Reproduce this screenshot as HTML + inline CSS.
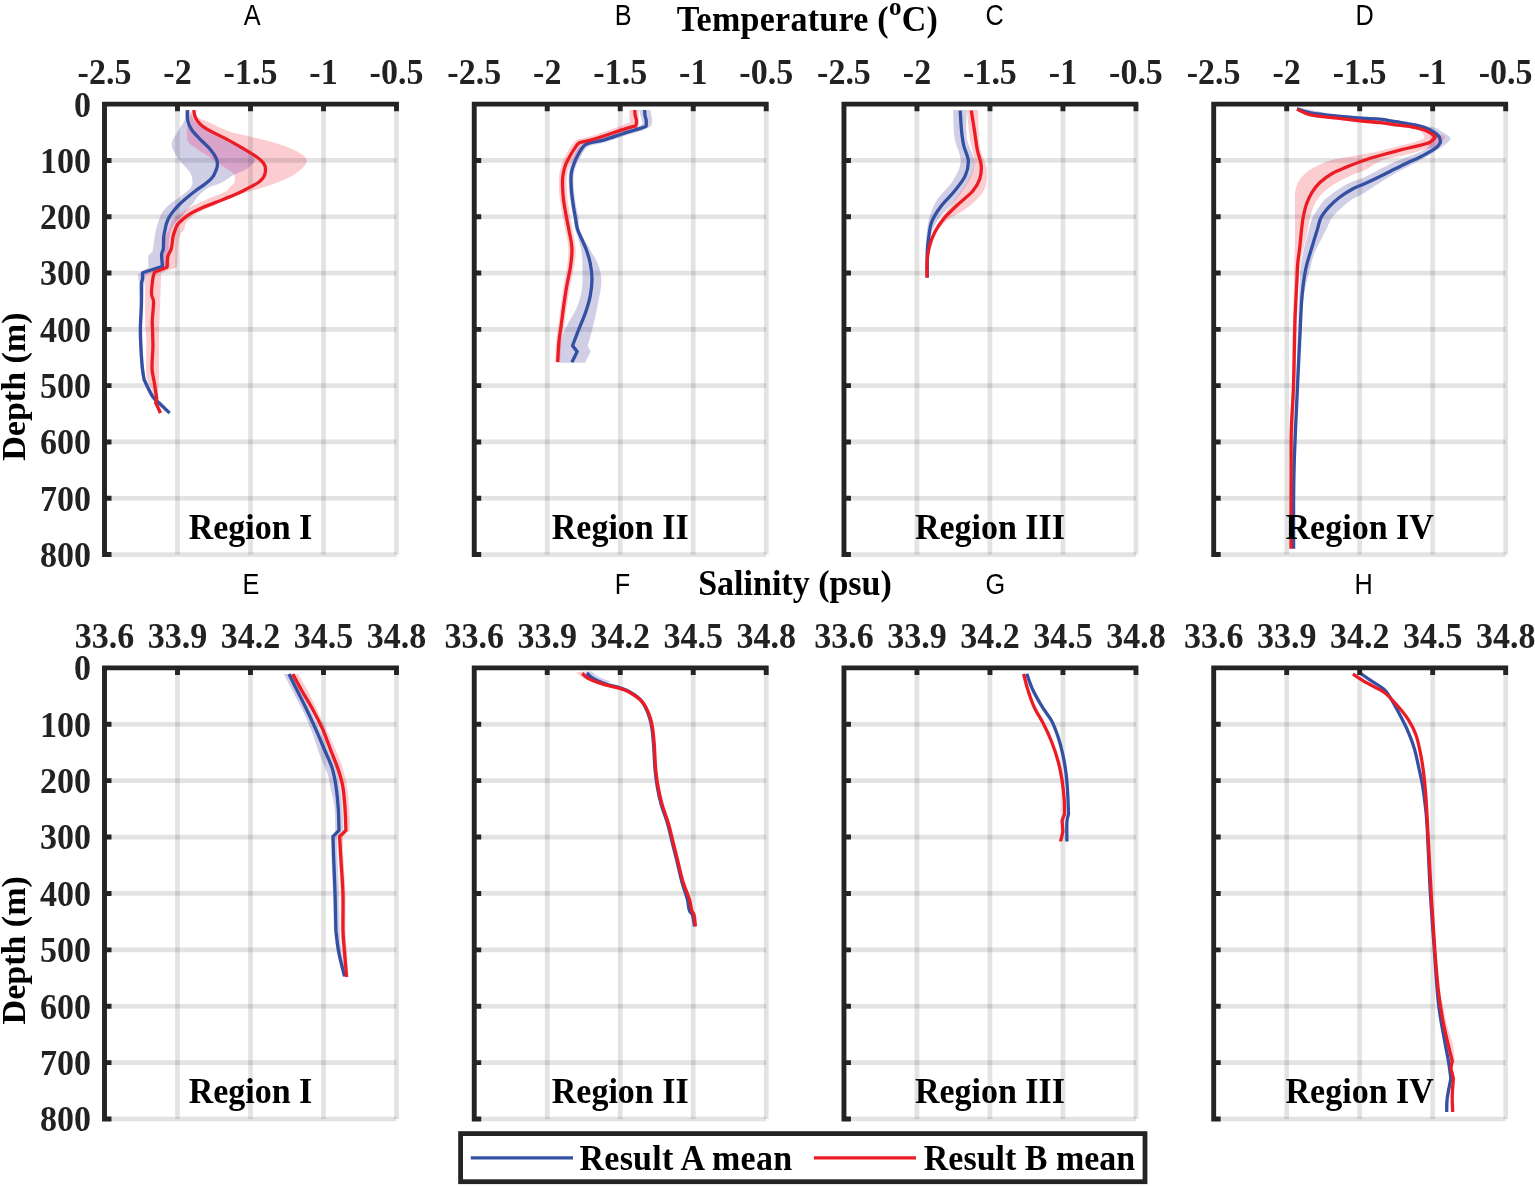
<!DOCTYPE html>
<html><head><meta charset="utf-8"><title>Temperature and Salinity profiles</title>
<style>html,body{margin:0;padding:0;background:#fff;}svg{display:block;}</style>
</head><body>
<svg width="1535" height="1186" viewBox="0 0 1535 1186">
<rect width="1535" height="1186" fill="#fff"/>
<path d="M185.3,110.1C185.17,111.78 185.63,116.83 184.5,120.2C183.37,123.57 180.62,126.52 178.5,130.3C176.38,134.08 172.5,139.25 171.8,142.9C171.1,146.55 172.75,148.97 174.3,152.2C175.85,155.43 178.7,159.2 181.1,162.3C183.5,165.4 186.93,168.43 188.7,170.8C190.47,173.17 191.1,174.25 191.7,176.5C192.3,178.75 192.73,182.13 192.3,184.3C191.87,186.47 191.27,187.32 189.1,189.5C186.93,191.68 182.57,194.9 179.3,197.4C176.03,199.9 172.32,202.02 169.5,204.5C166.68,206.98 164.13,209.8 162.4,212.3C160.67,214.8 160.18,216.55 159.1,219.5C158.02,222.45 156.83,225.75 155.9,230C154.97,234.25 154.1,241.42 153.5,245C152.9,248.58 153.13,249.62 152.3,251.5C151.47,253.38 149.13,253.68 148.5,256.3C147.87,258.92 148.5,265.38 148.5,267.2C146.82,268.33 140.08,272.87 138.4,274C138.4,274.83 138.2,277.33 138.4,279C138.6,280.67 139.4,279.83 139.6,284C139.8,288.17 139.75,296.57 139.6,304C139.45,311.43 138.77,321.42 138.7,328.6C138.63,335.78 138.88,340.62 139.2,347.1C139.52,353.58 140.07,362.02 140.6,367.5C141.13,372.98 142.1,377.92 142.4,380C143.83,382.92 148.15,393.17 151,397.5C153.85,401.83 156.6,403.22 159.5,406C162.4,408.78 166.92,412.83 168.4,414.2L170.8,411.8C169.37,410.33 165,405.8 162.2,403C159.4,400.2 156.73,398.97 154,395C151.27,391.03 147.17,381.83 145.8,379.2C145.5,377.25 144.53,372.85 144,367.5C143.47,362.15 142.92,353.58 142.6,347.1C142.28,340.62 142,335.78 142.1,328.6C142.2,321.42 142.82,311.43 143.2,304C143.58,296.57 143.93,288.92 144.4,284C144.87,279.08 145.73,276.08 146,274.5C149.93,273.28 165.67,268.42 169.6,267.2C169.47,263.55 168.65,251.07 168.8,245.3C168.95,239.53 169.38,236.48 170.5,232.6C171.62,228.72 173.7,224.62 175.5,222C177.3,219.38 179.47,218.83 181.3,216.9C183.13,214.97 184.67,212.57 186.5,210.4C188.33,208.23 190.23,206.4 192.3,203.9C194.37,201.4 196.18,198.12 198.9,195.4C201.62,192.68 204.8,189.77 208.6,187.6C212.4,185.43 217.55,184.52 221.7,182.4C225.85,180.28 229.65,176.95 233.5,174.9C237.35,172.85 241.65,171.88 244.8,170.1C247.95,168.32 250.73,165.97 252.4,164.2C254.07,162.43 255.45,161.5 254.8,159.5C254.15,157.5 252.35,155.1 248.5,152.2C244.65,149.3 238.02,145.47 231.7,142.1C225.38,138.73 216.65,135.37 210.6,132C204.55,128.63 198.92,125.55 195.4,121.9C191.88,118.25 190.48,112.07 189.5,110.1Z" fill="#d0cfe6"/>
<path d="M191.8,110.1C191.42,111.25 190.17,115.03 189.5,117C188.83,118.97 188.22,119.82 187.8,121.9C187.38,123.98 187,126.27 187,129.5C187,132.73 186.4,138.22 187.8,141.3C189.2,144.38 192.17,145.62 195.4,148C198.63,150.38 203.27,152.93 207.2,155.6C211.13,158.27 214.8,161.18 219,164C223.2,166.82 229.78,170.3 232.4,172.5C235.02,174.7 234.42,175.43 234.7,177.2C234.98,178.97 234.88,181.52 234.1,183.1C233.32,184.68 231.53,185.2 230,186.7C228.47,188.2 229,189.88 224.9,192.1C220.8,194.32 211.37,197.38 205.4,200C199.43,202.62 193.77,205.2 189.1,207.8C184.43,210.4 180.33,213.22 177.4,215.6C174.47,217.98 172.92,219.7 171.5,222.1C170.08,224.5 169.92,227.68 168.9,230C167.88,232.32 166.27,233.45 165.4,236C164.53,238.55 164.27,240.1 163.7,245.3C163.13,250.5 162.28,263.55 162,267.2C159.2,268.33 148,272.87 145.2,274C145.2,281.67 145,309 145.2,320C145.4,331 146.2,330.83 146.4,340C146.6,349.17 145.55,366.83 146.4,375C147.25,383.17 150.15,384.83 151.5,389C152.85,393.17 153.3,395.92 154.5,400C155.7,404.08 158,411.25 158.7,413.5L162,412.5C161.42,409.92 159,403.25 158.5,397C158,390.75 158.92,384.5 159,375C159.08,365.5 158.92,349.17 159,340C159.08,330.83 159.27,327.35 159.5,320C159.73,312.65 160.12,303.72 160.4,295.9C160.68,288.08 161.07,276.9 161.2,273.1C163.87,272.12 174.53,268.18 177.2,267.2C177.35,263.55 177.53,250.83 178.1,245.3C178.67,239.77 179.63,236.55 180.6,234C181.57,231.45 182.92,231.98 183.9,230C184.88,228.02 184.55,224.72 186.5,222.1C188.45,219.48 191.92,216.68 195.6,214.3C199.28,211.92 202.87,210.6 208.6,207.8C214.33,205 223.48,200.13 230,197.5C236.52,194.87 241.8,193.8 247.7,192C253.6,190.2 259.5,188.67 265.4,186.7C271.3,184.73 278.18,182.27 283.1,180.2C288.02,178.13 291.45,176.57 294.9,174.3C298.35,172.03 301.83,168.97 303.8,166.6C305.77,164.23 307.2,162.27 306.7,160.1C306.2,157.93 303.75,155.67 300.8,153.6C297.85,151.53 293.92,149.67 289,147.7C284.08,145.73 278.18,143.77 271.3,141.8C264.42,139.83 254.58,137.57 247.7,135.9C240.82,134.23 236.58,134.1 230,131.8C223.42,129.5 213.57,124.58 208.2,122.1C202.83,119.62 199.9,118.9 197.8,116.9C195.7,114.9 195.97,111.23 195.6,110.1Z" fill="#fbcdd0"/>
<clipPath id="ov0"><path d="M185.3,110.1C185.17,111.78 185.63,116.83 184.5,120.2C183.37,123.57 180.62,126.52 178.5,130.3C176.38,134.08 172.5,139.25 171.8,142.9C171.1,146.55 172.75,148.97 174.3,152.2C175.85,155.43 178.7,159.2 181.1,162.3C183.5,165.4 186.93,168.43 188.7,170.8C190.47,173.17 191.1,174.25 191.7,176.5C192.3,178.75 192.73,182.13 192.3,184.3C191.87,186.47 191.27,187.32 189.1,189.5C186.93,191.68 182.57,194.9 179.3,197.4C176.03,199.9 172.32,202.02 169.5,204.5C166.68,206.98 164.13,209.8 162.4,212.3C160.67,214.8 160.18,216.55 159.1,219.5C158.02,222.45 156.83,225.75 155.9,230C154.97,234.25 154.1,241.42 153.5,245C152.9,248.58 153.13,249.62 152.3,251.5C151.47,253.38 149.13,253.68 148.5,256.3C147.87,258.92 148.5,265.38 148.5,267.2C146.82,268.33 140.08,272.87 138.4,274C138.4,274.83 138.2,277.33 138.4,279C138.6,280.67 139.4,279.83 139.6,284C139.8,288.17 139.75,296.57 139.6,304C139.45,311.43 138.77,321.42 138.7,328.6C138.63,335.78 138.88,340.62 139.2,347.1C139.52,353.58 140.07,362.02 140.6,367.5C141.13,372.98 142.1,377.92 142.4,380C143.83,382.92 148.15,393.17 151,397.5C153.85,401.83 156.6,403.22 159.5,406C162.4,408.78 166.92,412.83 168.4,414.2L170.8,411.8C169.37,410.33 165,405.8 162.2,403C159.4,400.2 156.73,398.97 154,395C151.27,391.03 147.17,381.83 145.8,379.2C145.5,377.25 144.53,372.85 144,367.5C143.47,362.15 142.92,353.58 142.6,347.1C142.28,340.62 142,335.78 142.1,328.6C142.2,321.42 142.82,311.43 143.2,304C143.58,296.57 143.93,288.92 144.4,284C144.87,279.08 145.73,276.08 146,274.5C149.93,273.28 165.67,268.42 169.6,267.2C169.47,263.55 168.65,251.07 168.8,245.3C168.95,239.53 169.38,236.48 170.5,232.6C171.62,228.72 173.7,224.62 175.5,222C177.3,219.38 179.47,218.83 181.3,216.9C183.13,214.97 184.67,212.57 186.5,210.4C188.33,208.23 190.23,206.4 192.3,203.9C194.37,201.4 196.18,198.12 198.9,195.4C201.62,192.68 204.8,189.77 208.6,187.6C212.4,185.43 217.55,184.52 221.7,182.4C225.85,180.28 229.65,176.95 233.5,174.9C237.35,172.85 241.65,171.88 244.8,170.1C247.95,168.32 250.73,165.97 252.4,164.2C254.07,162.43 255.45,161.5 254.8,159.5C254.15,157.5 252.35,155.1 248.5,152.2C244.65,149.3 238.02,145.47 231.7,142.1C225.38,138.73 216.65,135.37 210.6,132C204.55,128.63 198.92,125.55 195.4,121.9C191.88,118.25 190.48,112.07 189.5,110.1Z"/></clipPath>
<path d="M191.8,110.1C191.42,111.25 190.17,115.03 189.5,117C188.83,118.97 188.22,119.82 187.8,121.9C187.38,123.98 187,126.27 187,129.5C187,132.73 186.4,138.22 187.8,141.3C189.2,144.38 192.17,145.62 195.4,148C198.63,150.38 203.27,152.93 207.2,155.6C211.13,158.27 214.8,161.18 219,164C223.2,166.82 229.78,170.3 232.4,172.5C235.02,174.7 234.42,175.43 234.7,177.2C234.98,178.97 234.88,181.52 234.1,183.1C233.32,184.68 231.53,185.2 230,186.7C228.47,188.2 229,189.88 224.9,192.1C220.8,194.32 211.37,197.38 205.4,200C199.43,202.62 193.77,205.2 189.1,207.8C184.43,210.4 180.33,213.22 177.4,215.6C174.47,217.98 172.92,219.7 171.5,222.1C170.08,224.5 169.92,227.68 168.9,230C167.88,232.32 166.27,233.45 165.4,236C164.53,238.55 164.27,240.1 163.7,245.3C163.13,250.5 162.28,263.55 162,267.2C159.2,268.33 148,272.87 145.2,274C145.2,281.67 145,309 145.2,320C145.4,331 146.2,330.83 146.4,340C146.6,349.17 145.55,366.83 146.4,375C147.25,383.17 150.15,384.83 151.5,389C152.85,393.17 153.3,395.92 154.5,400C155.7,404.08 158,411.25 158.7,413.5L162,412.5C161.42,409.92 159,403.25 158.5,397C158,390.75 158.92,384.5 159,375C159.08,365.5 158.92,349.17 159,340C159.08,330.83 159.27,327.35 159.5,320C159.73,312.65 160.12,303.72 160.4,295.9C160.68,288.08 161.07,276.9 161.2,273.1C163.87,272.12 174.53,268.18 177.2,267.2C177.35,263.55 177.53,250.83 178.1,245.3C178.67,239.77 179.63,236.55 180.6,234C181.57,231.45 182.92,231.98 183.9,230C184.88,228.02 184.55,224.72 186.5,222.1C188.45,219.48 191.92,216.68 195.6,214.3C199.28,211.92 202.87,210.6 208.6,207.8C214.33,205 223.48,200.13 230,197.5C236.52,194.87 241.8,193.8 247.7,192C253.6,190.2 259.5,188.67 265.4,186.7C271.3,184.73 278.18,182.27 283.1,180.2C288.02,178.13 291.45,176.57 294.9,174.3C298.35,172.03 301.83,168.97 303.8,166.6C305.77,164.23 307.2,162.27 306.7,160.1C306.2,157.93 303.75,155.67 300.8,153.6C297.85,151.53 293.92,149.67 289,147.7C284.08,145.73 278.18,143.77 271.3,141.8C264.42,139.83 254.58,137.57 247.7,135.9C240.82,134.23 236.58,134.1 230,131.8C223.42,129.5 213.57,124.58 208.2,122.1C202.83,119.62 199.9,118.9 197.8,116.9C195.7,114.9 195.97,111.23 195.6,110.1Z" fill="#d8a4ca" clip-path="url(#ov0)"/>
<path d="M177.5,104.15V554.55M250.5,104.15V554.55M323.5,104.15V554.55M396.5,104.15V554.55" stroke="#262830" stroke-opacity="0.13" stroke-width="4.7" fill="none"/>
<path d="M104.5,160.45H396.5M104.5,216.75H396.5M104.5,273.05H396.5M104.5,329.35H396.5M104.5,385.65H396.5M104.5,441.95H396.5M104.5,498.25H396.5M104.5,554.55H396.5" stroke="#262830" stroke-opacity="0.13" stroke-width="4.7" fill="none"/>
<path d="M187.4,110.1C187.47,111.92 187.03,117.63 187.8,121C188.57,124.37 189.88,127.2 192,130.3C194.12,133.4 197.4,136.37 200.5,139.6C203.6,142.83 207.93,146.47 210.6,149.7C213.27,152.93 215.38,156.33 216.5,159C217.62,161.67 217.37,163.87 217.3,165.7C217.23,167.53 216.9,168.08 216.1,170C215.3,171.92 214.28,174.92 212.5,177.2C210.72,179.48 208.22,181.43 205.4,183.7C202.58,185.97 198.75,188.42 195.6,190.8C192.45,193.18 189.22,195.72 186.5,198C183.78,200.28 181.47,202.33 179.3,204.5C177.13,206.67 175.23,208.82 173.5,211C171.77,213.18 170.1,215.42 168.9,217.6C167.7,219.78 166.95,222.03 166.3,224.1C165.65,226.17 165.43,227.87 165,230C164.57,232.13 163.98,233.78 163.7,236.9C163.42,240.02 163.65,245.75 163.3,248.7C162.95,251.65 161.73,251.65 161.6,254.6C161.47,257.55 162.35,264.43 162.5,266.4C159.18,267.45 145.92,271.65 142.6,272.7C142.6,273.75 142.8,277.1 142.6,279C142.4,280.9 141.6,279.88 141.4,284.1C141.2,288.32 141.57,296.88 141.4,304.3C141.23,311.72 140.48,321.47 140.4,328.6C140.32,335.73 140.58,340.62 140.9,347.1C141.22,353.58 141.77,362.08 142.3,367.5C142.83,372.92 143.8,377.58 144.1,379.6C145.5,382.38 149.72,392.13 152.5,396.3C155.28,400.47 157.95,401.82 160.8,404.6C163.65,407.38 168.13,411.6 169.6,413" stroke="#3450a2" stroke-width="3.3" fill="none" stroke-linejoin="round" stroke-linecap="butt"/>
<path d="M193.7,110.1C193.98,111.35 194.27,115.22 195.4,117.6C196.53,119.98 197.97,122.15 200.5,124.4C203.03,126.65 206.1,128.57 210.6,131.1C215.1,133.63 222.3,136.83 227.5,139.6C232.7,142.37 237.45,145.17 241.8,147.7C246.15,150.23 250.35,152.63 253.6,154.8C256.85,156.97 259.43,158.93 261.3,160.7C263.17,162.47 264.12,163.63 264.8,165.4C265.48,167.17 265.6,169.33 265.4,171.3C265.2,173.27 264.78,175.33 263.6,177.2C262.42,179.07 260.95,180.63 258.3,182.5C255.65,184.37 251.63,186.35 247.7,188.4C243.77,190.45 240.13,192.43 234.7,194.8C229.27,197.17 220.53,200.43 215.1,202.6C209.67,204.77 206.22,205.97 202.1,207.8C197.98,209.63 193.65,211.65 190.4,213.6C187.15,215.55 184.77,217.65 182.6,219.5C180.43,221.35 178.65,222.95 177.4,224.7C176.15,226.45 175.83,227.97 175.1,230C174.37,232.03 173.63,233.78 173,236.9C172.37,240.02 172.15,245.47 171.3,248.7C170.45,251.93 168.6,253.22 167.9,256.3C167.2,259.38 167.23,265.38 167.1,267.2C165,268.05 156.6,271.45 154.5,272.3C154.22,273.42 153.3,275.35 152.8,279C152.3,282.65 151.37,290.4 151.5,294.2C151.63,298 153.47,297.5 153.6,301.8C153.73,306.1 152.48,315.53 152.3,320C152.12,324.47 152.4,324.08 152.5,328.6C152.6,333.12 152.98,340.47 152.9,347.1C152.82,353.73 151.77,362.52 152,368.4C152.23,374.28 153.53,377.45 154.3,382.4C155.07,387.35 156.22,395.48 156.6,398.1C156.45,398.88 155.85,402.02 155.7,402.8C156.48,404.5 159.62,411.3 160.4,413" stroke="#ec1c24" stroke-width="3.3" fill="none" stroke-linejoin="round" stroke-linecap="butt"/>
<path d="M102.05,104.15H398.95M104.5,104.15V557M177.5,104.15V111.15M250.5,104.15V111.15M323.5,104.15V111.15M396.5,104.15V111.15M104.5,160.45H111.5M104.5,216.75H111.5M104.5,273.05H111.5M104.5,329.35H111.5M104.5,385.65H111.5M104.5,441.95H111.5M104.5,498.25H111.5M104.5,554.55H111.5" stroke="#242424" stroke-width="4.9" fill="none" stroke-linecap="butt"/>
<text transform="translate(104.5,83.85) scale(1,1.04)" text-anchor="middle" style="font-family:'Liberation Serif','Times New Roman',serif;font-weight:bold;font-size:34px" fill="#222">-2.5</text>
<text transform="translate(177.5,83.85) scale(1,1.04)" text-anchor="middle" style="font-family:'Liberation Serif','Times New Roman',serif;font-weight:bold;font-size:34px" fill="#222">-2</text>
<text transform="translate(250.5,83.85) scale(1,1.04)" text-anchor="middle" style="font-family:'Liberation Serif','Times New Roman',serif;font-weight:bold;font-size:34px" fill="#222">-1.5</text>
<text transform="translate(323.5,83.85) scale(1,1.04)" text-anchor="middle" style="font-family:'Liberation Serif','Times New Roman',serif;font-weight:bold;font-size:34px" fill="#222">-1</text>
<text transform="translate(396.5,83.85) scale(1,1.04)" text-anchor="middle" style="font-family:'Liberation Serif','Times New Roman',serif;font-weight:bold;font-size:34px" fill="#222">-0.5</text>
<text transform="translate(91,116.55) scale(1,1.04)" text-anchor="end" style="font-family:'Liberation Serif','Times New Roman',serif;font-weight:bold;font-size:34px" fill="#222">0</text>
<text transform="translate(91,172.85) scale(1,1.04)" text-anchor="end" style="font-family:'Liberation Serif','Times New Roman',serif;font-weight:bold;font-size:34px" fill="#222">100</text>
<text transform="translate(91,229.15) scale(1,1.04)" text-anchor="end" style="font-family:'Liberation Serif','Times New Roman',serif;font-weight:bold;font-size:34px" fill="#222">200</text>
<text transform="translate(91,285.45) scale(1,1.04)" text-anchor="end" style="font-family:'Liberation Serif','Times New Roman',serif;font-weight:bold;font-size:34px" fill="#222">300</text>
<text transform="translate(91,341.75) scale(1,1.04)" text-anchor="end" style="font-family:'Liberation Serif','Times New Roman',serif;font-weight:bold;font-size:34px" fill="#222">400</text>
<text transform="translate(91,398.05) scale(1,1.04)" text-anchor="end" style="font-family:'Liberation Serif','Times New Roman',serif;font-weight:bold;font-size:34px" fill="#222">500</text>
<text transform="translate(91,454.35) scale(1,1.04)" text-anchor="end" style="font-family:'Liberation Serif','Times New Roman',serif;font-weight:bold;font-size:34px" fill="#222">600</text>
<text transform="translate(91,510.65) scale(1,1.04)" text-anchor="end" style="font-family:'Liberation Serif','Times New Roman',serif;font-weight:bold;font-size:34px" fill="#222">700</text>
<text transform="translate(91,566.95) scale(1,1.04)" text-anchor="end" style="font-family:'Liberation Serif','Times New Roman',serif;font-weight:bold;font-size:34px" fill="#222">800</text>
<text transform="translate(250.5,539.25) scale(1,1.04)" text-anchor="middle" style="font-family:'Liberation Serif','Times New Roman',serif;font-weight:bold;font-size:34px" fill="#000">Region I</text>
<text transform="translate(252.2,24.6) scale(0.88,1)" text-anchor="middle" style="font-family:'Liberation Sans',Arial,sans-serif;font-size:28.7px" fill="#000">A</text>
<path d="M639.2,110C639.48,111.12 640.32,114.4 640.9,116.7C641.48,119 642.4,122.62 642.7,123.8C641.92,124.25 641.45,125.22 638,126.5C634.55,127.78 627.5,129.75 622,131.5C616.5,133.25 610.67,135.38 605,137C599.33,138.62 592.08,139.78 588,141.2C583.92,142.62 582.58,143.62 580.5,145.5C578.42,147.38 576.92,150 575.5,152.5C574.08,155 573.08,157.17 572,160.5C570.92,163.83 569.5,167.83 569,172.5C568.5,177.17 568.7,183.25 569,188.5C569.3,193.75 570.05,199.08 570.8,204C571.55,208.92 572.73,213.67 573.5,218C574.27,222.33 574.18,225.05 575.4,230C576.62,234.95 579.62,241.8 580.8,247.7C581.98,253.6 582.32,258.52 582.5,265.4C582.68,272.28 582.78,282.12 581.9,289C581.02,295.88 579.37,301.18 577.2,306.7C575.03,312.22 571.27,317.57 568.9,322.1C566.53,326.63 564.57,329.58 563,333.9C561.43,338.22 560.08,343.18 559.5,348C558.92,352.82 559.5,360.33 559.5,362.8L584.9,362.8C585.88,360.93 589.82,353.47 590.8,351.6C590.3,350.62 588.3,346.68 587.8,345.7C588.4,343.53 590.22,337.23 591.4,332.7C592.58,328.17 593.72,323.82 594.9,318.5C596.08,313.18 597.42,306.9 598.5,300.8C599.58,294.7 601.4,287.8 601.4,281.9C601.4,276 600.57,271.1 598.5,265.4C596.43,259.7 592.12,253.6 589,247.7C585.88,241.8 581.55,235.03 579.8,230C578.05,224.97 579.2,221.92 578.5,217.5C577.8,213.08 576.38,208.33 575.6,203.5C574.82,198.67 574.1,193.42 573.8,188.5C573.5,183.58 573.22,178.33 573.8,174C574.38,169.67 576.1,165.5 577.3,162.5C578.5,159.5 579.72,158.17 581,156C582.28,153.83 583.5,151.17 585,149.5C586.5,147.83 586.5,147.25 590,146C593.5,144.75 600.33,143.67 606,142C611.67,140.33 617.83,137.95 624,136C630.17,134.05 638.52,131.95 643,130.3C647.48,128.65 649.58,126.8 650.9,126.1C651.1,125.12 652.2,122.88 652.1,120.2C652,117.52 650.6,111.7 650.3,110Z" fill="#d0cfe6"/>
<path d="M629.2,110C629.3,112.1 629.7,120.5 629.8,122.6C628.17,123.2 624.3,124.67 620,126.2C615.7,127.73 609.17,130.03 604,131.8C598.83,133.57 593.5,135.47 589,136.8C584.5,138.13 579.97,138.27 577,139.8C574.03,141.33 573,143.63 571.2,146C569.4,148.37 567.8,150.92 566.2,154C564.6,157.08 562.77,161 561.6,164.5C560.43,168 559.67,171.58 559.2,175C558.73,178.42 558.67,180.78 558.8,185C558.93,189.22 559.3,194.8 560,200.3C560.7,205.8 562.1,213.05 563,218C563.9,222.95 564.52,225.05 565.4,230C566.28,234.95 568,241.8 568.3,247.7C568.6,253.6 568.02,258.9 567.2,265.4C566.38,271.9 564.5,279.82 563.4,286.7C562.3,293.58 561.43,300.42 560.6,306.7C559.77,312.98 559.13,318.5 558.4,324.4C557.67,330.3 556.73,335.8 556.2,342.1C555.67,348.4 555.37,358.85 555.2,362.2L560.3,362.2C560.53,358.85 561.03,348.4 561.7,342.1C562.37,335.8 563.45,330.3 564.3,324.4C565.15,318.5 565.85,312.98 566.8,306.7C567.75,300.42 568.75,293.58 570,286.7C571.25,279.82 573.37,271.9 574.3,265.4C575.23,258.9 575.88,253.6 575.6,247.7C575.32,241.8 573.47,234.95 572.6,230C571.73,225.05 571.23,222.95 570.4,218C569.57,213.05 568.23,205.8 567.6,200.3C566.97,194.8 566.7,189.13 566.6,185C566.5,180.87 566.53,178.58 567,175.5C567.47,172.42 568.23,169.35 569.4,166.5C570.57,163.65 572.47,160.95 574,158.4C575.53,155.85 577.1,153.23 578.6,151.2C580.1,149.17 580.77,147.47 583,146.2C585.23,144.93 588.08,144.83 592,143.6C595.92,142.37 601,140.65 606.5,138.8C612,136.95 619.55,134.92 625,132.5C630.45,130.08 636.83,125.67 639.2,124.3C639.1,121.92 638.7,112.38 638.6,110Z" fill="#fbcdd0"/>
<clipPath id="ov1"><path d="M639.2,110C639.48,111.12 640.32,114.4 640.9,116.7C641.48,119 642.4,122.62 642.7,123.8C641.92,124.25 641.45,125.22 638,126.5C634.55,127.78 627.5,129.75 622,131.5C616.5,133.25 610.67,135.38 605,137C599.33,138.62 592.08,139.78 588,141.2C583.92,142.62 582.58,143.62 580.5,145.5C578.42,147.38 576.92,150 575.5,152.5C574.08,155 573.08,157.17 572,160.5C570.92,163.83 569.5,167.83 569,172.5C568.5,177.17 568.7,183.25 569,188.5C569.3,193.75 570.05,199.08 570.8,204C571.55,208.92 572.73,213.67 573.5,218C574.27,222.33 574.18,225.05 575.4,230C576.62,234.95 579.62,241.8 580.8,247.7C581.98,253.6 582.32,258.52 582.5,265.4C582.68,272.28 582.78,282.12 581.9,289C581.02,295.88 579.37,301.18 577.2,306.7C575.03,312.22 571.27,317.57 568.9,322.1C566.53,326.63 564.57,329.58 563,333.9C561.43,338.22 560.08,343.18 559.5,348C558.92,352.82 559.5,360.33 559.5,362.8L584.9,362.8C585.88,360.93 589.82,353.47 590.8,351.6C590.3,350.62 588.3,346.68 587.8,345.7C588.4,343.53 590.22,337.23 591.4,332.7C592.58,328.17 593.72,323.82 594.9,318.5C596.08,313.18 597.42,306.9 598.5,300.8C599.58,294.7 601.4,287.8 601.4,281.9C601.4,276 600.57,271.1 598.5,265.4C596.43,259.7 592.12,253.6 589,247.7C585.88,241.8 581.55,235.03 579.8,230C578.05,224.97 579.2,221.92 578.5,217.5C577.8,213.08 576.38,208.33 575.6,203.5C574.82,198.67 574.1,193.42 573.8,188.5C573.5,183.58 573.22,178.33 573.8,174C574.38,169.67 576.1,165.5 577.3,162.5C578.5,159.5 579.72,158.17 581,156C582.28,153.83 583.5,151.17 585,149.5C586.5,147.83 586.5,147.25 590,146C593.5,144.75 600.33,143.67 606,142C611.67,140.33 617.83,137.95 624,136C630.17,134.05 638.52,131.95 643,130.3C647.48,128.65 649.58,126.8 650.9,126.1C651.1,125.12 652.2,122.88 652.1,120.2C652,117.52 650.6,111.7 650.3,110Z"/></clipPath>
<path d="M629.2,110C629.3,112.1 629.7,120.5 629.8,122.6C628.17,123.2 624.3,124.67 620,126.2C615.7,127.73 609.17,130.03 604,131.8C598.83,133.57 593.5,135.47 589,136.8C584.5,138.13 579.97,138.27 577,139.8C574.03,141.33 573,143.63 571.2,146C569.4,148.37 567.8,150.92 566.2,154C564.6,157.08 562.77,161 561.6,164.5C560.43,168 559.67,171.58 559.2,175C558.73,178.42 558.67,180.78 558.8,185C558.93,189.22 559.3,194.8 560,200.3C560.7,205.8 562.1,213.05 563,218C563.9,222.95 564.52,225.05 565.4,230C566.28,234.95 568,241.8 568.3,247.7C568.6,253.6 568.02,258.9 567.2,265.4C566.38,271.9 564.5,279.82 563.4,286.7C562.3,293.58 561.43,300.42 560.6,306.7C559.77,312.98 559.13,318.5 558.4,324.4C557.67,330.3 556.73,335.8 556.2,342.1C555.67,348.4 555.37,358.85 555.2,362.2L560.3,362.2C560.53,358.85 561.03,348.4 561.7,342.1C562.37,335.8 563.45,330.3 564.3,324.4C565.15,318.5 565.85,312.98 566.8,306.7C567.75,300.42 568.75,293.58 570,286.7C571.25,279.82 573.37,271.9 574.3,265.4C575.23,258.9 575.88,253.6 575.6,247.7C575.32,241.8 573.47,234.95 572.6,230C571.73,225.05 571.23,222.95 570.4,218C569.57,213.05 568.23,205.8 567.6,200.3C566.97,194.8 566.7,189.13 566.6,185C566.5,180.87 566.53,178.58 567,175.5C567.47,172.42 568.23,169.35 569.4,166.5C570.57,163.65 572.47,160.95 574,158.4C575.53,155.85 577.1,153.23 578.6,151.2C580.1,149.17 580.77,147.47 583,146.2C585.23,144.93 588.08,144.83 592,143.6C595.92,142.37 601,140.65 606.5,138.8C612,136.95 619.55,134.92 625,132.5C630.45,130.08 636.83,125.67 639.2,124.3C639.1,121.92 638.7,112.38 638.6,110Z" fill="#d8a4ca" clip-path="url(#ov1)"/>
<path d="M547.23,104.15V554.55M620.23,104.15V554.55M693.23,104.15V554.55M766.23,104.15V554.55" stroke="#262830" stroke-opacity="0.13" stroke-width="4.7" fill="none"/>
<path d="M474.23,160.45H766.23M474.23,216.75H766.23M474.23,273.05H766.23M474.23,329.35H766.23M474.23,385.65H766.23M474.23,441.95H766.23M474.23,498.25H766.23M474.23,554.55H766.23" stroke="#262830" stroke-opacity="0.13" stroke-width="4.7" fill="none"/>
<path d="M644.7,110C644.75,110.93 644.75,113.9 645,115.6C645.25,117.3 646,118.45 646.2,120.2C646.4,121.95 646.2,125.12 646.2,126.1C645.22,126.48 644.2,127.13 640.3,128.4C636.4,129.67 628.65,131.83 622.8,133.7C616.95,135.57 611.07,137.93 605.2,139.6C599.33,141.27 591.32,142.43 587.6,143.7C583.88,144.97 584.42,145.48 582.9,147.2C581.38,148.92 579.83,151.63 578.5,154C577.17,156.37 576.1,158.2 574.9,161.4C573.7,164.6 571.9,168.68 571.3,173.2C570.7,177.72 571,183.38 571.3,188.5C571.6,193.62 572.4,198.98 573.1,203.9C573.8,208.82 574.72,213.65 575.5,218C576.28,222.35 576.13,225.05 577.8,230C579.47,234.95 583.43,242.2 585.5,247.7C587.57,253.2 589.12,257.68 590.2,263C591.28,268.32 592,274.08 592,279.6C592,285.12 591.28,290.6 590.2,296.1C589.12,301.6 587.47,306.9 585.5,312.6C583.53,318.3 580.57,324.78 578.4,330.3C576.23,335.82 573.48,343.13 572.5,345.7C573.28,346.68 576.42,350.62 577.2,351.6C576.32,353.37 572.78,360.43 571.9,362.2" stroke="#3450a2" stroke-width="3.3" fill="none" stroke-linejoin="round" stroke-linecap="butt"/>
<path d="M634.8,110C634.85,110.83 634.82,113.2 635.1,115C635.38,116.8 636.37,119 636.5,120.8C636.63,122.6 636,124.97 635.9,125.8C633.72,126.43 627.92,127.98 622.8,129.6C617.68,131.22 610.58,133.73 605.2,135.5C599.82,137.27 594.8,138.98 590.5,140.2C586.2,141.42 582.03,141.43 579.4,142.8C576.77,144.17 576.27,146.2 574.7,148.4C573.13,150.6 571.53,153.23 570,156C568.47,158.77 566.67,161.83 565.5,165C564.33,168.17 563.5,171.67 563,175C562.5,178.33 562.4,180.78 562.5,185C562.6,189.22 562.92,194.8 563.6,200.3C564.28,205.8 565.72,213.05 566.6,218C567.48,222.95 568.02,225.05 568.9,230C569.78,234.95 571.6,241.8 571.9,247.7C572.2,253.6 571.58,258.9 570.7,265.4C569.82,271.9 567.78,279.82 566.6,286.7C565.42,293.58 564.48,300.42 563.6,306.7C562.72,312.98 562.08,318.5 561.3,324.4C560.52,330.3 559.5,335.8 558.9,342.1C558.3,348.4 557.9,358.85 557.7,362.2" stroke="#ec1c24" stroke-width="3.3" fill="none" stroke-linejoin="round" stroke-linecap="butt"/>
<path d="M471.78,104.15H768.68M474.23,104.15V557M547.23,104.15V111.15M620.23,104.15V111.15M693.23,104.15V111.15M766.23,104.15V111.15M474.23,160.45H481.23M474.23,216.75H481.23M474.23,273.05H481.23M474.23,329.35H481.23M474.23,385.65H481.23M474.23,441.95H481.23M474.23,498.25H481.23M474.23,554.55H481.23" stroke="#242424" stroke-width="4.9" fill="none" stroke-linecap="butt"/>
<text transform="translate(474.23,83.85) scale(1,1.04)" text-anchor="middle" style="font-family:'Liberation Serif','Times New Roman',serif;font-weight:bold;font-size:34px" fill="#222">-2.5</text>
<text transform="translate(547.23,83.85) scale(1,1.04)" text-anchor="middle" style="font-family:'Liberation Serif','Times New Roman',serif;font-weight:bold;font-size:34px" fill="#222">-2</text>
<text transform="translate(620.23,83.85) scale(1,1.04)" text-anchor="middle" style="font-family:'Liberation Serif','Times New Roman',serif;font-weight:bold;font-size:34px" fill="#222">-1.5</text>
<text transform="translate(693.23,83.85) scale(1,1.04)" text-anchor="middle" style="font-family:'Liberation Serif','Times New Roman',serif;font-weight:bold;font-size:34px" fill="#222">-1</text>
<text transform="translate(766.23,83.85) scale(1,1.04)" text-anchor="middle" style="font-family:'Liberation Serif','Times New Roman',serif;font-weight:bold;font-size:34px" fill="#222">-0.5</text>
<text transform="translate(620.23,539.25) scale(1,1.04)" text-anchor="middle" style="font-family:'Liberation Serif','Times New Roman',serif;font-weight:bold;font-size:34px" fill="#000">Region II</text>
<text transform="translate(623.1,24.6) scale(0.88,1)" text-anchor="middle" style="font-family:'Liberation Sans',Arial,sans-serif;font-size:28.7px" fill="#000">B</text>
<path d="M953.1,109.9C953.35,114.57 953.33,129.43 954.6,137.9C955.87,146.37 960.95,153.62 960.7,160.7C960.45,167.78 956.9,174.08 953.1,180.4C949.3,186.72 941.67,193 937.9,198.6C934.13,204.2 932.27,209.1 930.5,214C928.73,218.9 928.08,222.83 927.3,228C926.52,233.17 926.08,239.67 925.8,245C925.52,250.33 925.63,254.58 925.6,260C925.57,265.42 925.6,274.58 925.6,277.5L929,277.5C929,272.92 928.58,257.42 929,250C929.42,242.58 930.02,238.02 931.5,233C932.98,227.98 935.32,223.85 937.9,219.9C940.48,215.95 943.45,213.35 947,209.3C950.55,205.25 955.15,201.17 959.2,195.6C963.25,190.03 968.77,181.72 971.3,175.9C973.83,170.08 975.15,167.03 974.4,160.7C973.65,154.37 968.07,146.37 966.8,137.9C965.53,129.43 966.8,114.57 966.8,109.9Z" fill="#d0cfe6"/>
<path d="M966.8,109.9C967.3,114.57 968.53,128.93 969.8,137.9C971.07,146.87 975.17,155.85 974.4,163.7C973.63,171.55 969.25,177.92 965.2,185C961.15,192.08 953.97,200.7 950.1,206.2C946.23,211.7 944.85,213.53 942,218C939.15,222.47 935.33,228.17 933,233C930.67,237.83 929.25,242.17 928,247C926.75,251.83 925.95,256.92 925.5,262C925.05,267.08 925.33,274.92 925.3,277.5L928.8,277.5C928.83,274.42 928.55,264.33 929,259C929.45,253.67 930.17,250 931.5,245.5C932.83,241 934.33,236.25 937,232C939.67,227.75 943.55,223.28 947.5,220C951.45,216.72 956.22,215.35 960.7,212.3C965.18,209.25 970.35,205.75 974.4,201.7C978.45,197.65 982.98,193.57 985,188C987.02,182.43 987.38,175.38 986.5,168.3C985.62,161.22 981.1,155.23 979.7,145.5C978.3,135.77 978.37,115.83 978.1,109.9Z" fill="#fbcdd0"/>
<clipPath id="ov2"><path d="M953.1,109.9C953.35,114.57 953.33,129.43 954.6,137.9C955.87,146.37 960.95,153.62 960.7,160.7C960.45,167.78 956.9,174.08 953.1,180.4C949.3,186.72 941.67,193 937.9,198.6C934.13,204.2 932.27,209.1 930.5,214C928.73,218.9 928.08,222.83 927.3,228C926.52,233.17 926.08,239.67 925.8,245C925.52,250.33 925.63,254.58 925.6,260C925.57,265.42 925.6,274.58 925.6,277.5L929,277.5C929,272.92 928.58,257.42 929,250C929.42,242.58 930.02,238.02 931.5,233C932.98,227.98 935.32,223.85 937.9,219.9C940.48,215.95 943.45,213.35 947,209.3C950.55,205.25 955.15,201.17 959.2,195.6C963.25,190.03 968.77,181.72 971.3,175.9C973.83,170.08 975.15,167.03 974.4,160.7C973.65,154.37 968.07,146.37 966.8,137.9C965.53,129.43 966.8,114.57 966.8,109.9Z"/></clipPath>
<path d="M966.8,109.9C967.3,114.57 968.53,128.93 969.8,137.9C971.07,146.87 975.17,155.85 974.4,163.7C973.63,171.55 969.25,177.92 965.2,185C961.15,192.08 953.97,200.7 950.1,206.2C946.23,211.7 944.85,213.53 942,218C939.15,222.47 935.33,228.17 933,233C930.67,237.83 929.25,242.17 928,247C926.75,251.83 925.95,256.92 925.5,262C925.05,267.08 925.33,274.92 925.3,277.5L928.8,277.5C928.83,274.42 928.55,264.33 929,259C929.45,253.67 930.17,250 931.5,245.5C932.83,241 934.33,236.25 937,232C939.67,227.75 943.55,223.28 947.5,220C951.45,216.72 956.22,215.35 960.7,212.3C965.18,209.25 970.35,205.75 974.4,201.7C978.45,197.65 982.98,193.57 985,188C987.02,182.43 987.38,175.38 986.5,168.3C985.62,161.22 981.1,155.23 979.7,145.5C978.3,135.77 978.37,115.83 978.1,109.9Z" fill="#d8a4ca" clip-path="url(#ov2)"/>
<path d="M916.96,104.15V554.55M989.96,104.15V554.55M1062.96,104.15V554.55M1135.96,104.15V554.55" stroke="#262830" stroke-opacity="0.13" stroke-width="4.7" fill="none"/>
<path d="M843.96,160.45H1135.96M843.96,216.75H1135.96M843.96,273.05H1135.96M843.96,329.35H1135.96M843.96,385.65H1135.96M843.96,441.95H1135.96M843.96,498.25H1135.96M843.96,554.55H1135.96" stroke="#262830" stroke-opacity="0.13" stroke-width="4.7" fill="none"/>
<path d="M960.2,110.6C960.42,113.88 960.92,124.48 961.5,130.3C962.08,136.12 962.57,140.43 963.7,145.5C964.83,150.57 968.05,155.63 968.3,160.7C968.55,165.77 967.48,170.85 965.2,175.9C962.92,180.95 958.63,185.95 954.6,191C950.57,196.05 944.78,201.13 941,206.2C937.22,211.27 933.93,216.33 931.9,221.4C929.87,226.47 929.57,231.55 928.8,236.6C928.03,241.65 927.55,244.88 927.3,251.7C927.05,258.52 927.3,273.2 927.3,277.5" stroke="#3450a2" stroke-width="3.3" fill="none" stroke-linejoin="round" stroke-linecap="butt"/>
<path d="M971.3,110.6C971.82,113.88 973.38,123.72 974.4,130.3C975.42,136.88 976.27,144.27 977.4,150.1C978.53,155.93 980.82,160.5 981.2,165.3C981.58,170.1 981.1,174.62 979.7,178.9C978.3,183.18 976.47,186.7 972.8,191C969.13,195.3 962.5,200.13 957.7,204.7C952.9,209.27 947.8,213.85 944,218.4C940.2,222.95 937.3,227.45 934.9,232C932.5,236.55 930.87,241.15 929.6,245.7C928.33,250.25 927.73,254 927.3,259.3C926.87,264.6 927.05,274.47 927,277.5" stroke="#ec1c24" stroke-width="3.3" fill="none" stroke-linejoin="round" stroke-linecap="butt"/>
<path d="M841.51,104.15H1138.41M843.96,104.15V557M916.96,104.15V111.15M989.96,104.15V111.15M1062.96,104.15V111.15M1135.96,104.15V111.15M843.96,160.45H850.96M843.96,216.75H850.96M843.96,273.05H850.96M843.96,329.35H850.96M843.96,385.65H850.96M843.96,441.95H850.96M843.96,498.25H850.96M843.96,554.55H850.96" stroke="#242424" stroke-width="4.9" fill="none" stroke-linecap="butt"/>
<text transform="translate(843.96,83.85) scale(1,1.04)" text-anchor="middle" style="font-family:'Liberation Serif','Times New Roman',serif;font-weight:bold;font-size:34px" fill="#222">-2.5</text>
<text transform="translate(916.96,83.85) scale(1,1.04)" text-anchor="middle" style="font-family:'Liberation Serif','Times New Roman',serif;font-weight:bold;font-size:34px" fill="#222">-2</text>
<text transform="translate(989.96,83.85) scale(1,1.04)" text-anchor="middle" style="font-family:'Liberation Serif','Times New Roman',serif;font-weight:bold;font-size:34px" fill="#222">-1.5</text>
<text transform="translate(1062.96,83.85) scale(1,1.04)" text-anchor="middle" style="font-family:'Liberation Serif','Times New Roman',serif;font-weight:bold;font-size:34px" fill="#222">-1</text>
<text transform="translate(1135.96,83.85) scale(1,1.04)" text-anchor="middle" style="font-family:'Liberation Serif','Times New Roman',serif;font-weight:bold;font-size:34px" fill="#222">-0.5</text>
<text transform="translate(989.96,539.25) scale(1,1.04)" text-anchor="middle" style="font-family:'Liberation Serif','Times New Roman',serif;font-weight:bold;font-size:34px" fill="#000">Region III</text>
<text transform="translate(994.7,24.6) scale(0.88,1)" text-anchor="middle" style="font-family:'Liberation Sans',Arial,sans-serif;font-size:28.7px" fill="#000">C</text>
<path d="M1297,107.2C1303.75,108.43 1324,112.85 1337.5,114.6C1351,116.35 1365.67,116.37 1378,117.7C1390.33,119.03 1403.78,121.28 1411.5,122.6C1419.22,123.92 1421.05,124.45 1424.3,125.6C1427.55,126.75 1429.47,128.02 1431,129.5C1432.53,130.98 1433.5,133 1433.5,134.5C1433.5,136 1431.83,136.63 1431,138.5C1430.17,140.37 1430.05,143.58 1428.5,145.7C1426.95,147.82 1427.88,148.25 1421.7,151.2C1415.52,154.15 1400.85,159.12 1391.4,163.4C1381.95,167.68 1371.48,173.87 1365,176.9C1358.52,179.93 1356.83,179.58 1352.5,181.6C1348.17,183.62 1343.5,186.08 1339,189C1334.5,191.92 1329.22,195.5 1325.5,199.1C1321.78,202.7 1319.07,207 1316.7,210.6C1314.33,214.2 1312.58,217.47 1311.3,220.7C1310.02,223.93 1310.15,225.63 1309,230C1307.85,234.37 1305.72,241.28 1304.4,246.9C1303.08,252.52 1301.87,258.08 1301.1,263.7C1300.33,269.32 1300.32,269.88 1299.8,280.6C1299.28,291.32 1298.63,310.43 1298,328C1297.37,345.57 1296.63,366.83 1296,386C1295.37,405.17 1294.73,423.83 1294.2,443C1293.67,462.17 1293.08,483.5 1292.8,501C1292.52,518.5 1292.55,540.17 1292.5,548L1294.6,548C1294.67,540.17 1294.73,518.5 1295,501C1295.27,483.5 1295.7,462.17 1296.2,443C1296.7,423.83 1297.45,403.17 1298,386C1298.55,368.83 1298.85,351.95 1299.5,340C1300.15,328.05 1301.22,321.4 1301.9,314.3C1302.58,307.2 1302.75,303.02 1303.6,297.4C1304.45,291.78 1305.88,285.52 1307,280.6C1308.12,275.68 1309.18,272.12 1310.3,267.9C1311.42,263.68 1312.15,259.52 1313.7,255.3C1315.25,251.08 1317.47,246.98 1319.6,242.6C1321.73,238.22 1324.4,233.22 1326.5,229C1328.6,224.78 1329.57,220.93 1332.2,217.3C1334.83,213.67 1338.92,210.23 1342.3,207.2C1345.68,204.17 1348.72,201.57 1352.5,199.1C1356.28,196.63 1358.52,196.32 1365,192.4C1371.48,188.48 1382.82,180.62 1391.4,175.6C1399.98,170.58 1410.15,165.73 1416.5,162.3C1422.85,158.87 1425.6,157.33 1429.5,155C1433.4,152.67 1436.87,150.38 1439.9,148.3C1442.93,146.22 1445.97,144.25 1447.7,142.5C1449.43,140.75 1451.17,139.53 1450.3,137.8C1449.43,136.07 1445.53,133.92 1442.5,132.1C1439.47,130.28 1437.27,127.92 1432.1,126.9C1426.93,125.88 1420.52,127 1411.5,126C1402.48,125 1390.33,122.27 1378,120.9C1365.67,119.53 1351,119.55 1337.5,117.8C1324,116.05 1303.75,111.63 1297,110.4Z" fill="#d0cfe6"/>
<path d="M1297,110.6C1303.75,112.13 1324,117.6 1337.5,119.8C1351,122 1365.67,122.38 1378,123.8C1390.33,125.22 1404.5,127.07 1411.5,128.3C1418.5,129.53 1417.87,129.7 1420,131.2C1422.13,132.7 1424.88,135.58 1424.3,137.3C1423.72,139.02 1420.42,140.12 1416.5,141.5C1412.58,142.88 1406.88,144.03 1400.8,145.6C1394.72,147.17 1387.18,149.28 1380,150.9C1372.82,152.52 1365.67,153.78 1357.7,155.3C1349.73,156.82 1339.25,158.1 1332.2,160C1325.15,161.9 1319.9,164.45 1315.4,166.7C1310.9,168.95 1308.02,171.02 1305.2,173.5C1302.38,175.98 1300.12,178.78 1298.5,181.6C1296.88,184.42 1296.12,187.25 1295.5,190.4C1294.88,193.55 1294.88,193.9 1294.8,200.5C1294.72,207.1 1295.08,219.47 1295,230C1294.92,240.53 1294.55,252.03 1294.3,263.7C1294.05,275.37 1293.8,287.28 1293.5,300C1293.2,312.72 1292.78,325.67 1292.5,340C1292.22,354.33 1292.17,368.83 1291.8,386C1291.43,403.17 1290.67,423.83 1290.3,443C1289.93,462.17 1289.75,483.42 1289.6,501C1289.45,518.58 1289.43,540.58 1289.4,548.5L1292.4,548.5C1292.42,540.58 1292.32,518.58 1292.5,501C1292.68,483.42 1293.03,462.17 1293.5,443C1293.97,423.83 1294.75,405.17 1295.3,386C1295.85,366.83 1296.35,344 1296.8,328C1297.25,312 1297.57,299.32 1298,290C1298.43,280.68 1298.75,277.88 1299.4,272.1C1300.05,266.32 1300.5,262.32 1301.9,255.3C1303.3,248.28 1306.57,235.77 1307.8,230C1309.03,224.23 1308.6,223.93 1309.3,220.7C1310,217.47 1310.77,213.97 1312,210.6C1313.23,207.23 1314.45,203.87 1316.7,200.5C1318.95,197.13 1321.78,193.55 1325.5,190.4C1329.22,187.25 1334.5,184.2 1339,181.6C1343.5,179 1348.17,176.72 1352.5,174.8C1356.83,172.88 1360.42,172.35 1365,170.1C1369.58,167.85 1374.9,163.47 1380,161.3C1385.1,159.13 1389.52,158.67 1395.6,157.1C1401.68,155.53 1409.55,153.82 1416.5,151.9C1423.45,149.98 1432.53,148.03 1437.3,145.6C1442.07,143.17 1444.65,139.15 1445.1,137.3C1445.55,135.45 1442.18,135.47 1440,134.5C1437.82,133.53 1434.62,132.53 1432,131.5C1429.38,130.47 1427.72,129.33 1424.3,128.3C1420.88,127.27 1419.22,126.52 1411.5,125.3C1403.78,124.08 1390.33,122.45 1378,121C1365.67,119.55 1351,118.8 1337.5,116.6C1324,114.4 1303.75,109.27 1297,107.8Z" fill="#fbcdd0"/>
<clipPath id="ov3"><path d="M1297,107.2C1303.75,108.43 1324,112.85 1337.5,114.6C1351,116.35 1365.67,116.37 1378,117.7C1390.33,119.03 1403.78,121.28 1411.5,122.6C1419.22,123.92 1421.05,124.45 1424.3,125.6C1427.55,126.75 1429.47,128.02 1431,129.5C1432.53,130.98 1433.5,133 1433.5,134.5C1433.5,136 1431.83,136.63 1431,138.5C1430.17,140.37 1430.05,143.58 1428.5,145.7C1426.95,147.82 1427.88,148.25 1421.7,151.2C1415.52,154.15 1400.85,159.12 1391.4,163.4C1381.95,167.68 1371.48,173.87 1365,176.9C1358.52,179.93 1356.83,179.58 1352.5,181.6C1348.17,183.62 1343.5,186.08 1339,189C1334.5,191.92 1329.22,195.5 1325.5,199.1C1321.78,202.7 1319.07,207 1316.7,210.6C1314.33,214.2 1312.58,217.47 1311.3,220.7C1310.02,223.93 1310.15,225.63 1309,230C1307.85,234.37 1305.72,241.28 1304.4,246.9C1303.08,252.52 1301.87,258.08 1301.1,263.7C1300.33,269.32 1300.32,269.88 1299.8,280.6C1299.28,291.32 1298.63,310.43 1298,328C1297.37,345.57 1296.63,366.83 1296,386C1295.37,405.17 1294.73,423.83 1294.2,443C1293.67,462.17 1293.08,483.5 1292.8,501C1292.52,518.5 1292.55,540.17 1292.5,548L1294.6,548C1294.67,540.17 1294.73,518.5 1295,501C1295.27,483.5 1295.7,462.17 1296.2,443C1296.7,423.83 1297.45,403.17 1298,386C1298.55,368.83 1298.85,351.95 1299.5,340C1300.15,328.05 1301.22,321.4 1301.9,314.3C1302.58,307.2 1302.75,303.02 1303.6,297.4C1304.45,291.78 1305.88,285.52 1307,280.6C1308.12,275.68 1309.18,272.12 1310.3,267.9C1311.42,263.68 1312.15,259.52 1313.7,255.3C1315.25,251.08 1317.47,246.98 1319.6,242.6C1321.73,238.22 1324.4,233.22 1326.5,229C1328.6,224.78 1329.57,220.93 1332.2,217.3C1334.83,213.67 1338.92,210.23 1342.3,207.2C1345.68,204.17 1348.72,201.57 1352.5,199.1C1356.28,196.63 1358.52,196.32 1365,192.4C1371.48,188.48 1382.82,180.62 1391.4,175.6C1399.98,170.58 1410.15,165.73 1416.5,162.3C1422.85,158.87 1425.6,157.33 1429.5,155C1433.4,152.67 1436.87,150.38 1439.9,148.3C1442.93,146.22 1445.97,144.25 1447.7,142.5C1449.43,140.75 1451.17,139.53 1450.3,137.8C1449.43,136.07 1445.53,133.92 1442.5,132.1C1439.47,130.28 1437.27,127.92 1432.1,126.9C1426.93,125.88 1420.52,127 1411.5,126C1402.48,125 1390.33,122.27 1378,120.9C1365.67,119.53 1351,119.55 1337.5,117.8C1324,116.05 1303.75,111.63 1297,110.4Z"/></clipPath>
<path d="M1297,110.6C1303.75,112.13 1324,117.6 1337.5,119.8C1351,122 1365.67,122.38 1378,123.8C1390.33,125.22 1404.5,127.07 1411.5,128.3C1418.5,129.53 1417.87,129.7 1420,131.2C1422.13,132.7 1424.88,135.58 1424.3,137.3C1423.72,139.02 1420.42,140.12 1416.5,141.5C1412.58,142.88 1406.88,144.03 1400.8,145.6C1394.72,147.17 1387.18,149.28 1380,150.9C1372.82,152.52 1365.67,153.78 1357.7,155.3C1349.73,156.82 1339.25,158.1 1332.2,160C1325.15,161.9 1319.9,164.45 1315.4,166.7C1310.9,168.95 1308.02,171.02 1305.2,173.5C1302.38,175.98 1300.12,178.78 1298.5,181.6C1296.88,184.42 1296.12,187.25 1295.5,190.4C1294.88,193.55 1294.88,193.9 1294.8,200.5C1294.72,207.1 1295.08,219.47 1295,230C1294.92,240.53 1294.55,252.03 1294.3,263.7C1294.05,275.37 1293.8,287.28 1293.5,300C1293.2,312.72 1292.78,325.67 1292.5,340C1292.22,354.33 1292.17,368.83 1291.8,386C1291.43,403.17 1290.67,423.83 1290.3,443C1289.93,462.17 1289.75,483.42 1289.6,501C1289.45,518.58 1289.43,540.58 1289.4,548.5L1292.4,548.5C1292.42,540.58 1292.32,518.58 1292.5,501C1292.68,483.42 1293.03,462.17 1293.5,443C1293.97,423.83 1294.75,405.17 1295.3,386C1295.85,366.83 1296.35,344 1296.8,328C1297.25,312 1297.57,299.32 1298,290C1298.43,280.68 1298.75,277.88 1299.4,272.1C1300.05,266.32 1300.5,262.32 1301.9,255.3C1303.3,248.28 1306.57,235.77 1307.8,230C1309.03,224.23 1308.6,223.93 1309.3,220.7C1310,217.47 1310.77,213.97 1312,210.6C1313.23,207.23 1314.45,203.87 1316.7,200.5C1318.95,197.13 1321.78,193.55 1325.5,190.4C1329.22,187.25 1334.5,184.2 1339,181.6C1343.5,179 1348.17,176.72 1352.5,174.8C1356.83,172.88 1360.42,172.35 1365,170.1C1369.58,167.85 1374.9,163.47 1380,161.3C1385.1,159.13 1389.52,158.67 1395.6,157.1C1401.68,155.53 1409.55,153.82 1416.5,151.9C1423.45,149.98 1432.53,148.03 1437.3,145.6C1442.07,143.17 1444.65,139.15 1445.1,137.3C1445.55,135.45 1442.18,135.47 1440,134.5C1437.82,133.53 1434.62,132.53 1432,131.5C1429.38,130.47 1427.72,129.33 1424.3,128.3C1420.88,127.27 1419.22,126.52 1411.5,125.3C1403.78,124.08 1390.33,122.45 1378,121C1365.67,119.55 1351,118.8 1337.5,116.6C1324,114.4 1303.75,109.27 1297,107.8Z" fill="#d8a4ca" clip-path="url(#ov3)"/>
<path d="M1286.69,104.15V554.55M1359.69,104.15V554.55M1432.69,104.15V554.55M1505.69,104.15V554.55" stroke="#262830" stroke-opacity="0.13" stroke-width="4.7" fill="none"/>
<path d="M1213.69,160.45H1505.69M1213.69,216.75H1505.69M1213.69,273.05H1505.69M1213.69,329.35H1505.69M1213.69,385.65H1505.69M1213.69,441.95H1505.69M1213.69,498.25H1505.69M1213.69,554.55H1505.69" stroke="#262830" stroke-opacity="0.13" stroke-width="4.7" fill="none"/>
<path d="M1297,108.8C1299.25,109.47 1303.75,111.57 1310.5,112.8C1317.25,114.03 1329.25,115.3 1337.5,116.2C1345.75,117.1 1352.92,117.72 1360,118.2C1367.08,118.68 1374.07,118.52 1380,119.1C1385.93,119.68 1390.38,120.83 1395.6,121.7C1400.82,122.57 1406.52,123.35 1411.3,124.3C1416.08,125.25 1420.4,126.02 1424.3,127.4C1428.2,128.78 1432.18,130.95 1434.7,132.6C1437.22,134.25 1438.45,135.65 1439.4,137.3C1440.35,138.95 1440.23,141.63 1440.4,142.5C1439.88,143.2 1439.12,145.13 1437.3,146.7C1435.48,148.27 1432.53,150.08 1429.5,151.9C1426.47,153.72 1423.18,155.6 1419.1,157.6C1415.02,159.6 1410.68,161.17 1405,163.9C1399.32,166.63 1391.67,170.72 1385,174C1378.33,177.28 1370.42,181.1 1365,183.6C1359.58,186.1 1356.83,186.63 1352.5,189C1348.17,191.37 1342.95,194.77 1339,197.8C1335.05,200.83 1331.83,203.83 1328.8,207.2C1325.77,210.57 1322.68,214.37 1320.8,218C1318.92,221.63 1318.97,224.18 1317.5,229C1316.03,233.82 1313.75,241.12 1312,246.9C1310.25,252.68 1308.27,258.8 1307,263.7C1305.73,268.6 1305.18,271.38 1304.4,276.3C1303.62,281.22 1302.85,287.58 1302.3,293.2C1301.75,298.82 1301.45,303.87 1301.1,310C1300.75,316.13 1300.8,317.33 1300.2,330C1299.6,342.67 1298.3,369.03 1297.5,386C1296.7,402.97 1295.98,417.8 1295.4,431.8C1294.82,445.8 1294.3,458.18 1294,470C1293.7,481.82 1293.67,489.58 1293.6,502.7C1293.53,515.82 1293.6,541.03 1293.6,548.7" stroke="#3450a2" stroke-width="3.3" fill="none" stroke-linejoin="round" stroke-linecap="butt"/>
<path d="M1297,109.2C1299.25,110.13 1303.75,113.3 1310.5,114.8C1317.25,116.3 1329.25,117.2 1337.5,118.2C1345.75,119.2 1352.92,120.05 1360,120.8C1367.08,121.55 1374.07,122.03 1380,122.7C1385.93,123.37 1390.38,124.1 1395.6,124.8C1400.82,125.5 1406.52,126.03 1411.3,126.9C1416.08,127.77 1420.83,128.78 1424.3,130C1427.77,131.22 1430.28,132.98 1432.1,134.2C1433.92,135.42 1434.68,136.78 1435.2,137.3C1434.25,138.17 1432.62,141.02 1429.5,142.5C1426.38,143.98 1421.28,144.98 1416.5,146.2C1411.72,147.42 1406.02,148.5 1400.8,149.8C1395.58,151.1 1391.17,152.3 1385.2,154C1379.23,155.7 1371.58,157.77 1365,160C1358.42,162.23 1351.17,165.15 1345.7,167.4C1340.23,169.65 1336.47,171.02 1332.2,173.5C1327.93,175.98 1323.47,179.15 1320.1,182.3C1316.73,185.45 1314.25,188.82 1312,192.4C1309.75,195.98 1308.07,199.65 1306.6,203.8C1305.13,207.95 1304.05,212.93 1303.2,217.3C1302.35,221.67 1302.07,225.07 1301.5,230C1300.93,234.93 1300.43,241.28 1299.8,246.9C1299.17,252.52 1298.18,258.08 1297.7,263.7C1297.22,269.32 1297.18,274.98 1296.9,280.6C1296.62,286.22 1296.28,291.78 1296,297.4C1295.72,303.02 1295.42,308.87 1295.2,314.3C1294.98,319.73 1294.98,318.05 1294.7,330C1294.42,341.95 1294.07,369.33 1293.5,386C1292.93,402.67 1291.7,416 1291.3,430C1290.9,444 1291.15,457.88 1291.1,470C1291.05,482.12 1291.02,489.58 1291,502.7C1290.98,515.82 1291,541.03 1291,548.7" stroke="#ec1c24" stroke-width="3.3" fill="none" stroke-linejoin="round" stroke-linecap="butt"/>
<path d="M1211.24,104.15H1508.14M1213.69,104.15V557M1286.69,104.15V111.15M1359.69,104.15V111.15M1432.69,104.15V111.15M1505.69,104.15V111.15M1213.69,160.45H1220.69M1213.69,216.75H1220.69M1213.69,273.05H1220.69M1213.69,329.35H1220.69M1213.69,385.65H1220.69M1213.69,441.95H1220.69M1213.69,498.25H1220.69M1213.69,554.55H1220.69" stroke="#242424" stroke-width="4.9" fill="none" stroke-linecap="butt"/>
<text transform="translate(1213.69,83.85) scale(1,1.04)" text-anchor="middle" style="font-family:'Liberation Serif','Times New Roman',serif;font-weight:bold;font-size:34px" fill="#222">-2.5</text>
<text transform="translate(1286.69,83.85) scale(1,1.04)" text-anchor="middle" style="font-family:'Liberation Serif','Times New Roman',serif;font-weight:bold;font-size:34px" fill="#222">-2</text>
<text transform="translate(1359.69,83.85) scale(1,1.04)" text-anchor="middle" style="font-family:'Liberation Serif','Times New Roman',serif;font-weight:bold;font-size:34px" fill="#222">-1.5</text>
<text transform="translate(1432.69,83.85) scale(1,1.04)" text-anchor="middle" style="font-family:'Liberation Serif','Times New Roman',serif;font-weight:bold;font-size:34px" fill="#222">-1</text>
<text transform="translate(1505.69,83.85) scale(1,1.04)" text-anchor="middle" style="font-family:'Liberation Serif','Times New Roman',serif;font-weight:bold;font-size:34px" fill="#222">-0.5</text>
<text transform="translate(1359.69,539.25) scale(1,1.04)" text-anchor="middle" style="font-family:'Liberation Serif','Times New Roman',serif;font-weight:bold;font-size:34px" fill="#000">Region IV</text>
<text transform="translate(1364.5,24.6) scale(0.88,1)" text-anchor="middle" style="font-family:'Liberation Sans',Arial,sans-serif;font-size:28.7px" fill="#000">D</text>
<path d="M283.7,674.1C285.25,677.08 289.47,685.17 293,692C296.53,698.83 301.57,707.93 304.9,715.1C308.23,722.27 310.47,728.18 313,735C315.53,741.82 317.65,749.45 320.1,756C322.55,762.55 325.88,768.63 327.7,774.3C329.52,779.97 330,785.45 331,790C332,794.55 333.03,797.43 333.7,801.6C334.37,805.77 334.73,809.95 335,815C335.27,820.05 335.25,829.08 335.3,831.9C334.58,832.67 331.72,835.73 331,836.5C331.08,840.2 331.17,849.02 331.5,858.7C331.83,868.38 332.58,882.65 333,894.6C333.42,906.55 333.33,920.85 334,930.4C334.67,939.95 335.5,944.25 337,951.9C338.5,959.55 342,972.23 343,976.3L346,976.3C345.25,972.23 342.53,959.55 341.5,951.9C340.47,944.25 340.22,939.95 339.8,930.4C339.38,920.85 339.38,906.55 339,894.6C338.62,882.65 337.83,868.38 337.5,858.7C337.17,849.02 337.08,840.2 337,836.5C338,835.48 342,831.42 343,830.4C342.92,826.87 343,816.53 342.5,809.2C342,801.87 341.08,793.23 340,786.4C338.92,779.57 337.92,774.27 336,768.2C334.08,762.13 331.25,756.58 328.5,750C325.75,743.42 322.58,735.53 319.5,728.7C316.42,721.87 313.17,715.32 310,709C306.83,702.68 303.5,696.62 300.5,690.8C297.5,684.98 293.42,676.88 292,674.1Z" fill="#d0cfe6"/>
<path d="M290.6,674.1C292.12,676.88 296.42,684.98 299.7,690.8C302.98,696.62 306.88,702.68 310.3,709C313.72,715.32 317.17,721.87 320.2,728.7C323.23,735.53 325.85,743.17 328.5,750C331.15,756.83 334.08,763.63 336.1,769.7C338.12,775.77 339.47,779.82 340.6,786.4C341.73,792.98 342.38,801.87 342.9,809.2C343.42,816.53 343.57,826.87 343.7,830.4C342.65,831.42 338.45,835.48 337.4,836.5C337.62,840.2 338.13,849.02 338.7,858.7C339.27,868.38 340.45,882.65 340.8,894.6C341.15,906.55 340.55,920.85 340.8,930.4C341.05,939.95 341.7,944.13 342.3,951.9C342.9,959.67 344.05,972.82 344.4,977L348.5,977C348.25,972.82 347.5,959.67 347,951.9C346.5,944.13 345.75,939.95 345.5,930.4C345.25,920.85 345.83,906.55 345.5,894.6C345.17,882.65 343.92,868.38 343.5,858.7C343.08,849.02 343.08,840.2 343,836.5C344.12,835.48 348.58,831.42 349.7,830.4C349.7,828.12 350.07,823.43 349.7,816.7C349.33,809.97 348.65,798.08 347.5,790C346.35,781.92 345.05,775.53 342.8,768.2C340.55,760.87 337.28,753.58 334,746C330.72,738.42 327.1,731.2 323.1,722.7C319.1,714.2 314.17,703.1 310,695C305.83,686.9 300.08,677.58 298.1,674.1Z" fill="#fbcdd0"/>
<clipPath id="ov4"><path d="M283.7,674.1C285.25,677.08 289.47,685.17 293,692C296.53,698.83 301.57,707.93 304.9,715.1C308.23,722.27 310.47,728.18 313,735C315.53,741.82 317.65,749.45 320.1,756C322.55,762.55 325.88,768.63 327.7,774.3C329.52,779.97 330,785.45 331,790C332,794.55 333.03,797.43 333.7,801.6C334.37,805.77 334.73,809.95 335,815C335.27,820.05 335.25,829.08 335.3,831.9C334.58,832.67 331.72,835.73 331,836.5C331.08,840.2 331.17,849.02 331.5,858.7C331.83,868.38 332.58,882.65 333,894.6C333.42,906.55 333.33,920.85 334,930.4C334.67,939.95 335.5,944.25 337,951.9C338.5,959.55 342,972.23 343,976.3L346,976.3C345.25,972.23 342.53,959.55 341.5,951.9C340.47,944.25 340.22,939.95 339.8,930.4C339.38,920.85 339.38,906.55 339,894.6C338.62,882.65 337.83,868.38 337.5,858.7C337.17,849.02 337.08,840.2 337,836.5C338,835.48 342,831.42 343,830.4C342.92,826.87 343,816.53 342.5,809.2C342,801.87 341.08,793.23 340,786.4C338.92,779.57 337.92,774.27 336,768.2C334.08,762.13 331.25,756.58 328.5,750C325.75,743.42 322.58,735.53 319.5,728.7C316.42,721.87 313.17,715.32 310,709C306.83,702.68 303.5,696.62 300.5,690.8C297.5,684.98 293.42,676.88 292,674.1Z"/></clipPath>
<path d="M290.6,674.1C292.12,676.88 296.42,684.98 299.7,690.8C302.98,696.62 306.88,702.68 310.3,709C313.72,715.32 317.17,721.87 320.2,728.7C323.23,735.53 325.85,743.17 328.5,750C331.15,756.83 334.08,763.63 336.1,769.7C338.12,775.77 339.47,779.82 340.6,786.4C341.73,792.98 342.38,801.87 342.9,809.2C343.42,816.53 343.57,826.87 343.7,830.4C342.65,831.42 338.45,835.48 337.4,836.5C337.62,840.2 338.13,849.02 338.7,858.7C339.27,868.38 340.45,882.65 340.8,894.6C341.15,906.55 340.55,920.85 340.8,930.4C341.05,939.95 341.7,944.13 342.3,951.9C342.9,959.67 344.05,972.82 344.4,977L348.5,977C348.25,972.82 347.5,959.67 347,951.9C346.5,944.13 345.75,939.95 345.5,930.4C345.25,920.85 345.83,906.55 345.5,894.6C345.17,882.65 343.92,868.38 343.5,858.7C343.08,849.02 343.08,840.2 343,836.5C344.12,835.48 348.58,831.42 349.7,830.4C349.7,828.12 350.07,823.43 349.7,816.7C349.33,809.97 348.65,798.08 347.5,790C346.35,781.92 345.05,775.53 342.8,768.2C340.55,760.87 337.28,753.58 334,746C330.72,738.42 327.1,731.2 323.1,722.7C319.1,714.2 314.17,703.1 310,695C305.83,686.9 300.08,677.58 298.1,674.1Z" fill="#d8a4ca" clip-path="url(#ov4)"/>
<path d="M177.5,667.9V1119M250.5,667.9V1119M323.5,667.9V1119M396.5,667.9V1119" stroke="#262830" stroke-opacity="0.13" stroke-width="4.7" fill="none"/>
<path d="M104.5,724.29H396.5M104.5,780.67H396.5M104.5,837.06H396.5M104.5,893.45H396.5M104.5,949.84H396.5M104.5,1006.23H396.5M104.5,1062.61H396.5M104.5,1119H396.5" stroke="#262830" stroke-opacity="0.13" stroke-width="4.7" fill="none"/>
<path d="M289,674.1C290.38,676.88 294.4,684.98 297.3,690.8C300.2,696.62 303.37,702.68 306.4,709C309.43,715.32 312.47,721.87 315.5,728.7C318.53,735.53 321.82,743.42 324.6,750C327.38,756.58 330.3,762.13 332.2,768.2C334.1,774.27 334.98,779.57 336,786.4C337.02,793.23 337.8,801.87 338.3,809.2C338.8,816.53 338.88,826.87 339,830.4C338,831.42 334,835.48 333,836.5C333.12,840.2 333.35,849.02 333.7,858.7C334.05,868.38 334.73,882.65 335.1,894.6C335.47,906.55 335.77,924.43 335.9,930.4C336.37,933.98 337.27,944.25 338.7,951.9C340.13,959.55 343.53,972.23 344.5,976.3" stroke="#3450a2" stroke-width="3.3" fill="none" stroke-linejoin="round" stroke-linecap="butt"/>
<path d="M292.8,674.1C294.32,676.88 298.62,684.98 301.9,690.8C305.18,696.62 309.08,702.68 312.5,709C315.92,715.32 319.37,721.87 322.4,728.7C325.43,735.53 328.05,743.17 330.7,750C333.35,756.83 336.28,763.63 338.3,769.7C340.32,775.77 341.67,779.82 342.8,786.4C343.93,792.98 344.58,801.87 345.1,809.2C345.62,816.53 345.77,826.87 345.9,830.4C344.85,831.42 340.65,835.48 339.6,836.5C339.82,840.2 340.33,849.02 340.9,858.7C341.47,868.38 342.65,882.65 343,894.6C343.35,906.55 342.75,920.85 343,930.4C343.25,939.95 343.9,944.13 344.5,951.9C345.1,959.67 346.25,972.82 346.6,977" stroke="#ec1c24" stroke-width="3.3" fill="none" stroke-linejoin="round" stroke-linecap="butt"/>
<path d="M102.05,667.9H398.95M104.5,667.9V1121.45M177.5,667.9V674.9M250.5,667.9V674.9M323.5,667.9V674.9M396.5,667.9V674.9M104.5,724.29H111.5M104.5,780.67H111.5M104.5,837.06H111.5M104.5,893.45H111.5M104.5,949.84H111.5M104.5,1006.23H111.5M104.5,1062.61H111.5M104.5,1119H111.5" stroke="#242424" stroke-width="4.9" fill="none" stroke-linecap="butt"/>
<text transform="translate(104.5,647.6) scale(1,1.04)" text-anchor="middle" style="font-family:'Liberation Serif','Times New Roman',serif;font-weight:bold;font-size:34px" fill="#222">33.6</text>
<text transform="translate(177.5,647.6) scale(1,1.04)" text-anchor="middle" style="font-family:'Liberation Serif','Times New Roman',serif;font-weight:bold;font-size:34px" fill="#222">33.9</text>
<text transform="translate(250.5,647.6) scale(1,1.04)" text-anchor="middle" style="font-family:'Liberation Serif','Times New Roman',serif;font-weight:bold;font-size:34px" fill="#222">34.2</text>
<text transform="translate(323.5,647.6) scale(1,1.04)" text-anchor="middle" style="font-family:'Liberation Serif','Times New Roman',serif;font-weight:bold;font-size:34px" fill="#222">34.5</text>
<text transform="translate(396.5,647.6) scale(1,1.04)" text-anchor="middle" style="font-family:'Liberation Serif','Times New Roman',serif;font-weight:bold;font-size:34px" fill="#222">34.8</text>
<text transform="translate(91,680.3) scale(1,1.04)" text-anchor="end" style="font-family:'Liberation Serif','Times New Roman',serif;font-weight:bold;font-size:34px" fill="#222">0</text>
<text transform="translate(91,736.69) scale(1,1.04)" text-anchor="end" style="font-family:'Liberation Serif','Times New Roman',serif;font-weight:bold;font-size:34px" fill="#222">100</text>
<text transform="translate(91,793.07) scale(1,1.04)" text-anchor="end" style="font-family:'Liberation Serif','Times New Roman',serif;font-weight:bold;font-size:34px" fill="#222">200</text>
<text transform="translate(91,849.46) scale(1,1.04)" text-anchor="end" style="font-family:'Liberation Serif','Times New Roman',serif;font-weight:bold;font-size:34px" fill="#222">300</text>
<text transform="translate(91,905.85) scale(1,1.04)" text-anchor="end" style="font-family:'Liberation Serif','Times New Roman',serif;font-weight:bold;font-size:34px" fill="#222">400</text>
<text transform="translate(91,962.24) scale(1,1.04)" text-anchor="end" style="font-family:'Liberation Serif','Times New Roman',serif;font-weight:bold;font-size:34px" fill="#222">500</text>
<text transform="translate(91,1018.62) scale(1,1.04)" text-anchor="end" style="font-family:'Liberation Serif','Times New Roman',serif;font-weight:bold;font-size:34px" fill="#222">600</text>
<text transform="translate(91,1075.01) scale(1,1.04)" text-anchor="end" style="font-family:'Liberation Serif','Times New Roman',serif;font-weight:bold;font-size:34px" fill="#222">700</text>
<text transform="translate(91,1131.4) scale(1,1.04)" text-anchor="end" style="font-family:'Liberation Serif','Times New Roman',serif;font-weight:bold;font-size:34px" fill="#222">800</text>
<text transform="translate(250.5,1103.4) scale(1,1.04)" text-anchor="middle" style="font-family:'Liberation Serif','Times New Roman',serif;font-weight:bold;font-size:34px" fill="#000">Region I</text>
<text transform="translate(250.9,593.9) scale(0.88,1)" text-anchor="middle" style="font-family:'Liberation Sans',Arial,sans-serif;font-size:28.7px" fill="#000">E</text>
<path d="M585,671.5C586.33,672.67 589.5,676.5 593,678.5C596.5,680.5 603.83,682.67 606,683.5L610,681.5C608,680.67 601,678.17 598,676.5C595,674.83 593,672.33 592,671.5Z" fill="#d0cfe6"/>
<path d="M576,672.5C577.67,673.67 582,677.5 586,679.5C590,681.5 597.67,683.67 600,684.5L603,682.5C601.17,681.5 595.17,678.33 592,676.5C588.83,674.67 585.33,672.33 584,671.5Z" fill="#fbcdd0"/>
<clipPath id="ov5"><path d="M585,671.5C586.33,672.67 589.5,676.5 593,678.5C596.5,680.5 603.83,682.67 606,683.5L610,681.5C608,680.67 601,678.17 598,676.5C595,674.83 593,672.33 592,671.5Z"/></clipPath>
<path d="M576,672.5C577.67,673.67 582,677.5 586,679.5C590,681.5 597.67,683.67 600,684.5L603,682.5C601.17,681.5 595.17,678.33 592,676.5C588.83,674.67 585.33,672.33 584,671.5Z" fill="#d8a4ca" clip-path="url(#ov5)"/>
<path d="M547.23,667.9V1119M620.23,667.9V1119M693.23,667.9V1119M766.23,667.9V1119" stroke="#262830" stroke-opacity="0.13" stroke-width="4.7" fill="none"/>
<path d="M474.23,724.29H766.23M474.23,780.67H766.23M474.23,837.06H766.23M474.23,893.45H766.23M474.23,949.84H766.23M474.23,1006.23H766.23M474.23,1062.61H766.23M474.23,1119H766.23" stroke="#262830" stroke-opacity="0.13" stroke-width="4.7" fill="none"/>
<path d="M586.9,673C587.73,673.77 589.1,675.87 591.9,677.6C594.7,679.33 598.92,681.67 603.7,683.4C608.48,685.13 616.38,686.65 620.6,688C624.82,689.35 625.77,689.63 629,691.5C632.23,693.37 637.28,696.58 640,699.2C642.72,701.82 643.73,704.18 645.3,707.2C646.87,710.22 648.3,713.8 649.4,717.3C650.5,720.8 651.2,723.57 651.9,728.2C652.6,732.83 653.08,738.27 653.6,745.1C654.12,751.93 654.38,762.23 655,769.2C655.62,776.17 656.27,781.02 657.3,786.9C658.33,792.78 659.48,798.37 661.2,804.5C662.92,810.63 665.73,817.28 667.6,823.7C669.47,830.12 670.8,836.58 672.4,843C674,849.42 675.63,855.78 677.2,862.2C678.77,868.62 680.12,875.35 681.8,881.5C683.48,887.65 686.05,894.3 687.3,899.1C688.55,903.9 688.43,907.63 689.3,910.3C690.17,912.97 691.63,912.42 692.5,915.1C693.37,917.78 694.17,924.52 694.5,926.4" stroke="#3450a2" stroke-width="3.3" fill="none" stroke-linejoin="round" stroke-linecap="butt"/>
<path d="M582.2,673.4C583.25,674.25 584.92,676.67 588.5,678.5C592.08,680.33 598.35,682.72 603.7,684.4C609.05,686.08 616.38,687.33 620.6,688.6C624.82,689.87 625.77,690.17 629,692C632.23,693.83 637.18,697.07 640,699.6C642.82,702.13 644.22,704.25 645.9,707.2C647.58,710.15 648.98,713.8 650.1,717.3C651.22,720.8 651.9,723.57 652.6,728.2C653.3,732.83 653.78,738.27 654.3,745.1C654.82,751.93 655.07,762.23 655.7,769.2C656.33,776.17 657.03,781.02 658.1,786.9C659.17,792.78 660.37,798.37 662.1,804.5C663.83,810.63 666.63,817.28 668.5,823.7C670.37,830.12 671.7,836.58 673.3,843C674.9,849.42 676.5,855.78 678.1,862.2C679.7,868.62 681.03,875.35 682.9,881.5C684.77,887.65 687.83,894.3 689.3,899.1C690.77,903.9 690.9,907.63 691.7,910.3C692.5,912.97 693.48,912.42 694.1,915.1C694.72,917.78 695.18,924.52 695.4,926.4" stroke="#ec1c24" stroke-width="3.3" fill="none" stroke-linejoin="round" stroke-linecap="butt"/>
<path d="M471.78,667.9H768.68M474.23,667.9V1121.45M547.23,667.9V674.9M620.23,667.9V674.9M693.23,667.9V674.9M766.23,667.9V674.9M474.23,724.29H481.23M474.23,780.67H481.23M474.23,837.06H481.23M474.23,893.45H481.23M474.23,949.84H481.23M474.23,1006.23H481.23M474.23,1062.61H481.23M474.23,1119H481.23" stroke="#242424" stroke-width="4.9" fill="none" stroke-linecap="butt"/>
<text transform="translate(474.23,647.6) scale(1,1.04)" text-anchor="middle" style="font-family:'Liberation Serif','Times New Roman',serif;font-weight:bold;font-size:34px" fill="#222">33.6</text>
<text transform="translate(547.23,647.6) scale(1,1.04)" text-anchor="middle" style="font-family:'Liberation Serif','Times New Roman',serif;font-weight:bold;font-size:34px" fill="#222">33.9</text>
<text transform="translate(620.23,647.6) scale(1,1.04)" text-anchor="middle" style="font-family:'Liberation Serif','Times New Roman',serif;font-weight:bold;font-size:34px" fill="#222">34.2</text>
<text transform="translate(693.23,647.6) scale(1,1.04)" text-anchor="middle" style="font-family:'Liberation Serif','Times New Roman',serif;font-weight:bold;font-size:34px" fill="#222">34.5</text>
<text transform="translate(766.23,647.6) scale(1,1.04)" text-anchor="middle" style="font-family:'Liberation Serif','Times New Roman',serif;font-weight:bold;font-size:34px" fill="#222">34.8</text>
<text transform="translate(620.23,1103.4) scale(1,1.04)" text-anchor="middle" style="font-family:'Liberation Serif','Times New Roman',serif;font-weight:bold;font-size:34px" fill="#000">Region II</text>
<text transform="translate(622.4,593.9) scale(0.88,1)" text-anchor="middle" style="font-family:'Liberation Sans',Arial,sans-serif;font-size:28.7px" fill="#000">F</text>
<path d="M916.96,667.9V1119M989.96,667.9V1119M1062.96,667.9V1119M1135.96,667.9V1119" stroke="#262830" stroke-opacity="0.13" stroke-width="4.7" fill="none"/>
<path d="M843.96,724.29H1135.96M843.96,780.67H1135.96M843.96,837.06H1135.96M843.96,893.45H1135.96M843.96,949.84H1135.96M843.96,1006.23H1135.96M843.96,1062.61H1135.96M843.96,1119H1135.96" stroke="#262830" stroke-opacity="0.13" stroke-width="4.7" fill="none"/>
<path d="M1026.8,673.8C1027.73,676.33 1029.85,683.52 1032.4,689C1034.95,694.48 1038.88,701.35 1042.1,706.7C1045.32,712.05 1049.03,716.03 1051.7,721.1C1054.37,726.17 1056.23,731.48 1058.1,737.1C1059.97,742.72 1061.57,748.65 1062.9,754.8C1064.23,760.95 1065.3,767.58 1066.1,774C1066.9,780.42 1067.3,786.62 1067.7,793.3C1068.1,799.98 1068.37,810.63 1068.5,814.1C1068.23,815.43 1067.17,817.55 1066.9,822.1C1066.63,826.65 1066.9,838.18 1066.9,841.4" stroke="#3450a2" stroke-width="3.3" fill="none" stroke-linejoin="round" stroke-linecap="butt"/>
<path d="M1023.6,673.8C1024.27,676.33 1025.87,683.52 1027.6,689C1029.33,694.48 1031.32,700.82 1034,706.7C1036.68,712.58 1040.75,718.42 1043.7,724.3C1046.65,730.18 1049.3,735.85 1051.7,742C1054.1,748.15 1056.37,754.8 1058.1,761.2C1059.83,767.6 1061.08,773.98 1062.1,780.4C1063.12,786.82 1063.8,794.08 1064.2,799.7C1064.6,805.32 1064.45,811.7 1064.5,814.1C1064.1,815.17 1062.5,819.43 1062.1,820.5C1062.23,822.37 1062.77,829.83 1062.9,831.7C1062.5,833.32 1060.9,839.78 1060.5,841.4" stroke="#ec1c24" stroke-width="3.3" fill="none" stroke-linejoin="round" stroke-linecap="butt"/>
<path d="M841.51,667.9H1138.41M843.96,667.9V1121.45M916.96,667.9V674.9M989.96,667.9V674.9M1062.96,667.9V674.9M1135.96,667.9V674.9M843.96,724.29H850.96M843.96,780.67H850.96M843.96,837.06H850.96M843.96,893.45H850.96M843.96,949.84H850.96M843.96,1006.23H850.96M843.96,1062.61H850.96M843.96,1119H850.96" stroke="#242424" stroke-width="4.9" fill="none" stroke-linecap="butt"/>
<text transform="translate(843.96,647.6) scale(1,1.04)" text-anchor="middle" style="font-family:'Liberation Serif','Times New Roman',serif;font-weight:bold;font-size:34px" fill="#222">33.6</text>
<text transform="translate(916.96,647.6) scale(1,1.04)" text-anchor="middle" style="font-family:'Liberation Serif','Times New Roman',serif;font-weight:bold;font-size:34px" fill="#222">33.9</text>
<text transform="translate(989.96,647.6) scale(1,1.04)" text-anchor="middle" style="font-family:'Liberation Serif','Times New Roman',serif;font-weight:bold;font-size:34px" fill="#222">34.2</text>
<text transform="translate(1062.96,647.6) scale(1,1.04)" text-anchor="middle" style="font-family:'Liberation Serif','Times New Roman',serif;font-weight:bold;font-size:34px" fill="#222">34.5</text>
<text transform="translate(1135.96,647.6) scale(1,1.04)" text-anchor="middle" style="font-family:'Liberation Serif','Times New Roman',serif;font-weight:bold;font-size:34px" fill="#222">34.8</text>
<text transform="translate(989.96,1103.4) scale(1,1.04)" text-anchor="middle" style="font-family:'Liberation Serif','Times New Roman',serif;font-weight:bold;font-size:34px" fill="#000">Region III</text>
<text transform="translate(995.4,593.9) scale(0.88,1)" text-anchor="middle" style="font-family:'Liberation Sans',Arial,sans-serif;font-size:28.7px" fill="#000">G</text>
<path d="M1440,1005C1440.5,1009.17 1441.83,1022.5 1443,1030C1444.17,1037.5 1446,1044.17 1447,1050C1448,1055.83 1448.67,1062.5 1449,1065L1455,1062C1454.67,1059.17 1454.33,1051.17 1453,1045C1451.67,1038.83 1448.83,1032.5 1447,1025C1445.17,1017.5 1442.83,1004.17 1442,1000Z" fill="#fbcdd0"/>
<path d="M1286.69,667.9V1119M1359.69,667.9V1119M1432.69,667.9V1119M1505.69,667.9V1119" stroke="#262830" stroke-opacity="0.13" stroke-width="4.7" fill="none"/>
<path d="M1213.69,724.29H1505.69M1213.69,780.67H1505.69M1213.69,837.06H1505.69M1213.69,893.45H1505.69M1213.69,949.84H1505.69M1213.69,1006.23H1505.69M1213.69,1062.61H1505.69M1213.69,1119H1505.69" stroke="#262830" stroke-opacity="0.13" stroke-width="4.7" fill="none"/>
<path d="M1360.5,673.3C1362.13,674.45 1366.38,677.53 1370.3,680.2C1374.22,682.87 1380.45,686.02 1384,689.3C1387.55,692.58 1389.07,695.85 1391.6,699.9C1394.13,703.95 1396.67,708.8 1399.2,713.6C1401.73,718.4 1404.28,722.9 1406.8,728.7C1409.32,734.5 1412.28,741.82 1414.3,748.4C1416.32,754.98 1417.5,761.87 1418.9,768.2C1420.3,774.53 1421.57,779.58 1422.7,786.4C1423.83,793.22 1424.93,801.83 1425.7,809.1C1426.47,816.37 1426.53,816.17 1427.3,830C1428.07,843.83 1429.13,872.22 1430.3,892.1C1431.47,911.98 1432.93,930.67 1434.3,949.3C1435.67,967.93 1436.77,988.58 1438.5,1003.9C1440.23,1019.22 1443.05,1031.67 1444.7,1041.2C1446.35,1050.73 1447.37,1054.9 1448.4,1061.1C1449.43,1067.3 1450.48,1075.52 1450.9,1078.4C1450.28,1081.72 1447.9,1092.7 1447.2,1098.3C1446.5,1103.9 1446.78,1109.72 1446.7,1112" stroke="#3450a2" stroke-width="3.3" fill="none" stroke-linejoin="round" stroke-linecap="butt"/>
<path d="M1352.9,674.1C1355.3,675.62 1362.12,680.17 1367.3,683.2C1372.48,686.23 1378.93,688.5 1384,692.3C1389.07,696.1 1393.65,701.45 1397.7,706C1401.75,710.55 1405.27,714.8 1408.3,719.6C1411.33,724.4 1413.88,729.23 1415.9,734.8C1417.92,740.37 1419.15,746.93 1420.4,753C1421.65,759.07 1422.52,764.37 1423.4,771.2C1424.28,778.03 1424.97,784.2 1425.7,794C1426.43,803.8 1426.9,813.65 1427.8,830C1428.7,846.35 1429.93,872.22 1431.1,892.1C1432.27,911.98 1433.57,932.73 1434.8,949.3C1436.03,965.87 1437.05,979.08 1438.5,991.5C1439.95,1003.92 1441.22,1012.2 1443.5,1023.8C1445.78,1035.4 1450.75,1054.88 1452.2,1061.1C1451.98,1062.33 1451.12,1067.27 1450.9,1068.5C1451.32,1070.15 1452.98,1076.75 1453.4,1078.4C1453.2,1081.3 1452.32,1090.2 1452.2,1095.8C1452.08,1101.4 1452.62,1109.3 1452.7,1112" stroke="#ec1c24" stroke-width="3.3" fill="none" stroke-linejoin="round" stroke-linecap="butt"/>
<path d="M1211.24,667.9H1508.14M1213.69,667.9V1121.45M1286.69,667.9V674.9M1359.69,667.9V674.9M1432.69,667.9V674.9M1505.69,667.9V674.9M1213.69,724.29H1220.69M1213.69,780.67H1220.69M1213.69,837.06H1220.69M1213.69,893.45H1220.69M1213.69,949.84H1220.69M1213.69,1006.23H1220.69M1213.69,1062.61H1220.69M1213.69,1119H1220.69" stroke="#242424" stroke-width="4.9" fill="none" stroke-linecap="butt"/>
<text transform="translate(1213.69,647.6) scale(1,1.04)" text-anchor="middle" style="font-family:'Liberation Serif','Times New Roman',serif;font-weight:bold;font-size:34px" fill="#222">33.6</text>
<text transform="translate(1286.69,647.6) scale(1,1.04)" text-anchor="middle" style="font-family:'Liberation Serif','Times New Roman',serif;font-weight:bold;font-size:34px" fill="#222">33.9</text>
<text transform="translate(1359.69,647.6) scale(1,1.04)" text-anchor="middle" style="font-family:'Liberation Serif','Times New Roman',serif;font-weight:bold;font-size:34px" fill="#222">34.2</text>
<text transform="translate(1432.69,647.6) scale(1,1.04)" text-anchor="middle" style="font-family:'Liberation Serif','Times New Roman',serif;font-weight:bold;font-size:34px" fill="#222">34.5</text>
<text transform="translate(1505.69,647.6) scale(1,1.04)" text-anchor="middle" style="font-family:'Liberation Serif','Times New Roman',serif;font-weight:bold;font-size:34px" fill="#222">34.8</text>
<text transform="translate(1359.69,1103.4) scale(1,1.04)" text-anchor="middle" style="font-family:'Liberation Serif','Times New Roman',serif;font-weight:bold;font-size:34px" fill="#000">Region IV</text>
<text transform="translate(1363.6,593.9) scale(0.88,1)" text-anchor="middle" style="font-family:'Liberation Sans',Arial,sans-serif;font-size:28.7px" fill="#000">H</text>
<text transform="translate(25.3,386.6) rotate(-90) scale(1,1.02)" text-anchor="middle" style="font-family:'Liberation Serif','Times New Roman',serif;font-weight:bold;font-size:34px" fill="#000">Depth (m)</text>
<text transform="translate(25.3,950.3) rotate(-90) scale(1,1.02)" text-anchor="middle" style="font-family:'Liberation Serif','Times New Roman',serif;font-weight:bold;font-size:34px" fill="#000">Depth (m)</text>
<text transform="translate(676.8,31.3) scale(1,1.04)" style="font-family:'Liberation Serif','Times New Roman',serif;font-weight:bold;font-size:34px;letter-spacing:0.27px" fill="#000">Temperature (<tspan dy="-16.1" style="font-size:25px">o</tspan><tspan dy="16.1">C)</tspan></text>
<text transform="translate(795,595.1) scale(1,1.04)" text-anchor="middle" style="font-family:'Liberation Serif','Times New Roman',serif;font-weight:bold;font-size:34px" fill="#000">Salinity (psu)</text>
<rect x="460.6" y="1133.6" width="684.4" height="48.1" fill="#fff" stroke="#242424" stroke-width="4.8"/>
<path d="M470.8,1157.8H573" stroke="#3450a2" stroke-width="3.3"/>
<path d="M813.9,1157.8H916" stroke="#ec1c24" stroke-width="3.3"/>
<text transform="translate(579.5,1170.2) scale(1,1.04)" style="font-family:'Liberation Serif','Times New Roman',serif;font-weight:bold;font-size:34px;letter-spacing:0.25px" fill="#000">Result A mean</text>
<text transform="translate(923.8,1169.9) scale(1,1.04)" style="font-family:'Liberation Serif','Times New Roman',serif;font-weight:bold;font-size:34px" fill="#000">Result B mean</text>
</svg>
</body></html>
